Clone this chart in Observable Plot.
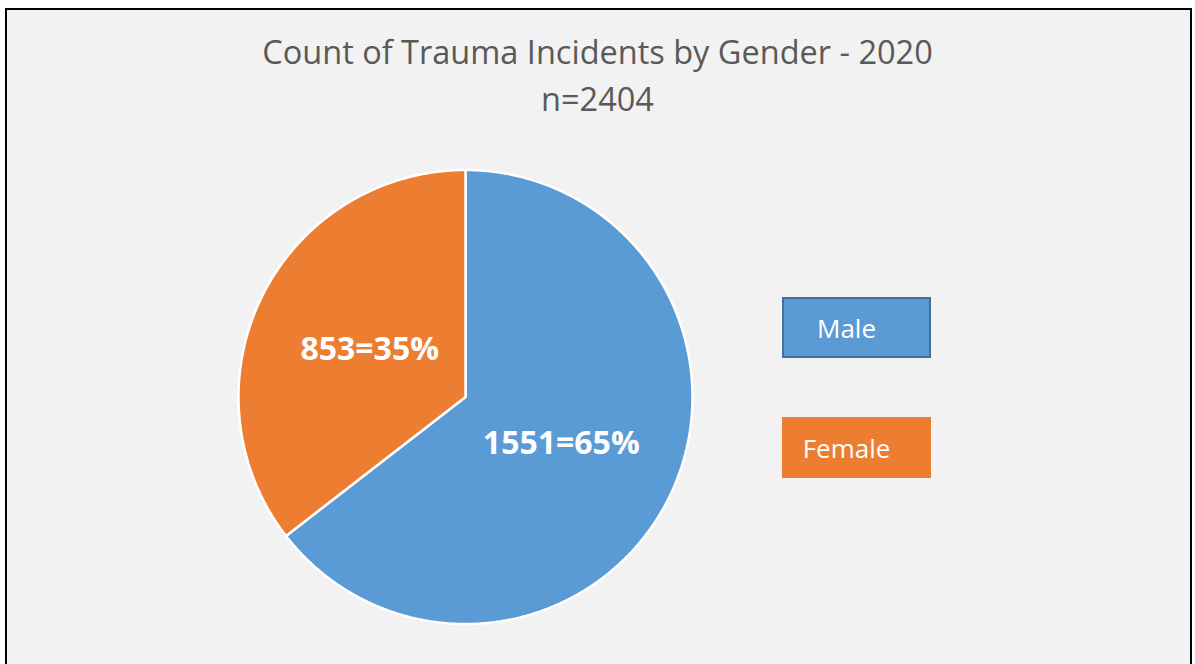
<!DOCTYPE html>
<html>
<head>
<meta charset="utf-8">
<script src="https://cdn.jsdelivr.net/npm/d3@7"></script>
<script src="https://cdn.jsdelivr.net/npm/@observablehq/plot@0.6"></script>
<style>
  html, body { margin: 0; padding: 0; background: #ffffff; }
  body { width: 1195px; height: 664px; position: relative; overflow: hidden; font-family: "Open Sans", sans-serif; }
  #frame { position: absolute; left: 5px; top: 8px; width: 1183px; height: 670px; background: #f2f2f2;
           border-left: 2.5px solid #000; border-top: 2.5px solid #000; border-right: 2.5px solid #000; }
  #chart { position: absolute; left: 0; top: 0; }
  .title { position: absolute; left: 0; width: 1195px; text-align: center; color: #595959; font-size: 32.5px; line-height: 44px; }
  .leg { position: absolute; left: 782px; width: 149px; height: 61px; box-sizing: border-box; color: #fff;
         font-size: 26px; display: flex; align-items: center; justify-content: center; padding-right: 20px; }
</style>
</head>
<body>
<div id="frame"></div>
<div id="chart"></div>
<div class="title" id="t1" style="top:30px;"></div>
<div class="title" id="t2" style="top:77px;"></div>
<div id="legend"></div>
<script>
const titleText = "Count of Trauma Incidents by Gender - 2020";
const subtitleText = "n=2404";
const genders = ["Male", "Female"];
const counts = [1551, 853];
const percents = ["65%", "35%"];
const colors = ["#5b9bd5", "#ed7d31"];

document.getElementById("t1").textContent = titleText;
document.getElementById("t2").textContent = subtitleText;

const total = d3.sum(counts);
// Build slice outlines (in unit-circle data space) from the cumulative counts
const slices = [];
const labels = [];
let cum = 0;
genders.forEach((g, i) => {
  const a0 = cum / total * 2 * Math.PI;
  cum += counts[i];
  const a1 = cum / total * 2 * Math.PI;
  slices.push({gender: g, x: 0, y: 0});
  const n = Math.max(2, Math.ceil((a1 - a0) / 0.005));
  for (let k = 0; k <= n; k++) {
    const a = a0 + (a1 - a0) * k / n;
    slices.push({gender: g, x: Math.sin(a), y: Math.cos(a)});
  }
  slices.push({gender: g, x: 0, y: 0});
  const am = (a0 + a1) / 2;
  const r = 0.47;
  labels.push({gender: g, x: r * Math.sin(am), y: r * Math.cos(am), text: `${counts[i]}=${percents[i]}`});
});

const cx = 465, cy = 396.5, R = 227;
const plot = Plot.plot({
  width: 1195,
  height: 664,
  margin: 0,
  style: {background: "transparent", overflow: "visible"},
  x: {domain: [-1, 1], range: [cx - R, cx + R], axis: null},
  y: {domain: [-1, 1], range: [cy + R, cy - R], axis: null},
  color: {domain: genders, range: colors},
  marks: [
    Plot.line(slices, {x: "x", y: "y", z: "gender", fill: "gender", stroke: "#ffffff", strokeWidth: 2.5, strokeLinejoin: "miter", curve: "linear"}),
    Plot.text(labels, {x: "x", y: "y", text: "text", fill: "#ffffff", fontWeight: "bold", fontSize: 32, fontFamily: "Open Sans"})
  ]
});
document.getElementById("chart").appendChild(plot);

const legendTops = [297, 417];
const legend = document.getElementById("legend");
genders.forEach((g, i) => {
  const d = document.createElement("div");
  d.className = "leg";
  d.style.top = legendTops[i] + "px";
  d.style.background = colors[i];
  if (i === 0) d.style.border = "2.5px solid #41719c";
  d.textContent = g;
  legend.appendChild(d);
});
</script>
</body>
</html>
